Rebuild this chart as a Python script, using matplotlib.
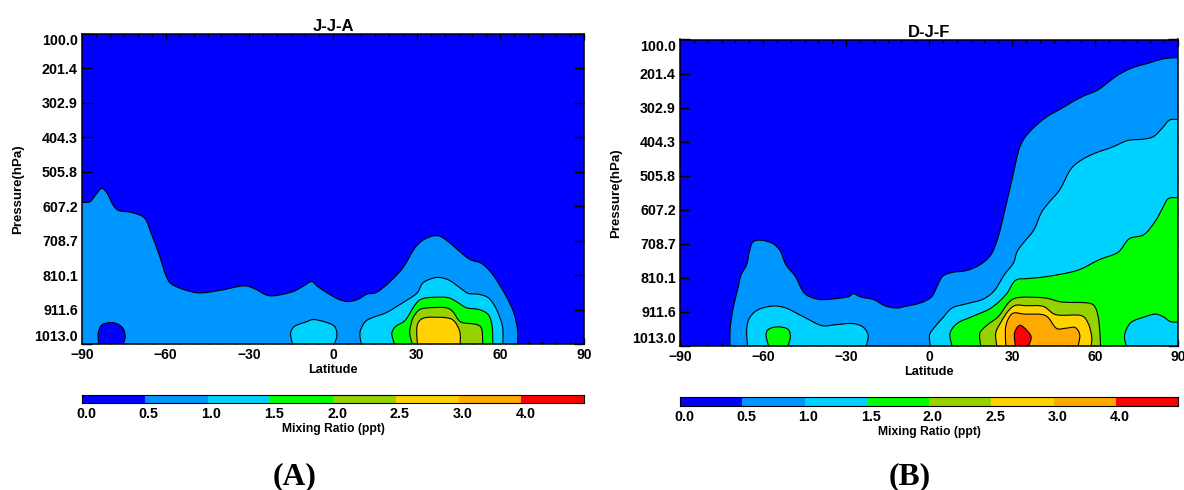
import matplotlib
matplotlib.use('Agg')
import matplotlib.pyplot as plt
import numpy as np
from matplotlib.path import Path
from matplotlib.patches import PathPatch

plt.rcParams['font.family'] = ['Liberation Sans', 'DejaVu Sans']
plt.rcParams['font.weight'] = 'bold'

W, H = 1184, 490

levels = ['0.0', '0.5', '1.0', '1.5', '2.0', '2.5', '3.0', '4.0']
colors = ['#0000ff', '#0096ff', '#00d2ff', '#00ff00', '#96d200', '#ffd200', '#ffaa00', '#ff0000']
pressure_ticks = [100.0, 201.4, 302.9, 404.3, 505.8, 607.2, 708.7, 810.1, 911.6, 1013.0]
lat_ticks = [-90, -60, -30, 0, 30, 60, 90]

# contours as (latitude, pressure)
jja_05 = [(-90, 596), (-87.1, 594), (-85.1, 574), (-83, 555), (-81, 569), (-78.9, 603), (-76.8, 620),
          (-72, 626), (-67.5, 643), (-65.2, 687), (-62.5, 746), (-59.7, 815), (-57, 841), (-48.8, 862),
          (-41.2, 856), (-32.3, 842), (-28.2, 850), (-22.7, 871), (-15.2, 861), (-11.1, 845), (-7.7, 829),
          (-5.6, 843), (-2.2, 862), (1.9, 881), (5.3, 888), (8.8, 882), (12.2, 866), (15.6, 861),
          (20.4, 830), (25.2, 787), (29.3, 731), (32.7, 705), (36.8, 694), (40.3, 705), (48.5, 761),
          (53.3, 776), (57.4, 810), (62.2, 874), (64.9, 923), (66.2, 973), (66.2, 1013)]
jja_hole = [(-84, 1013), (-84.2, 982), (-83, 958), (-80.3, 950), (-77.5, 953), (-75.2, 968), (-74.5, 992),
            (-75.2, 1013)]
jja_10a = [(-14.5, 1013), (-15.2, 982), (-13.8, 961), (-9.7, 948), (-7, 941), (-2.9, 948), (0.5, 961),
           (1.4, 987), (0.5, 1013)]
jja_10b = [(10.1, 1013), (9.7, 978), (11.5, 948), (14.2, 935), (19, 921), (24.5, 894), (30, 864), (32, 835),
           (34.8, 822), (37.9, 817), (41.6, 825), (45.8, 849), (48.5, 864), (52.6, 867), (56, 879),
           (58.8, 914), (60.8, 963), (60.9, 1013)]
jja_15 = [(22, 1013), (21.1, 982), (22.5, 961), (25.9, 943), (29.3, 899), (31.4, 882), (34.8, 876), (41, 876),
          (44.4, 889), (47.8, 906), (52.6, 912), (55.8, 928), (57.1, 963), (57.3, 1013)]
jja_20 = [(28.4, 1013), (27.5, 978), (28.6, 938), (30.7, 914), (33.4, 907), (40.3, 906), (43, 918),
          (45.8, 948), (51.2, 955), (53.3, 968), (53.7, 1013)]
jja_25 = [(30.3, 1013), (30, 973), (30.7, 948), (33.4, 935), (40.9, 936), (43.7, 948), (45.5, 978),
          (45.6, 1013)]

djf_05 = [(-71.9, 1013), (-71.9, 965), (-70.9, 905), (-69.2, 846), (-67.9, 801), (-65.9, 771), (-64.9, 731),
          (-63.6, 703), (-60.5, 698), (-56.4, 708), (-53.7, 731), (-51.7, 771), (-48.3, 806), (-45.6, 850),
          (-42.9, 867), (-38.2, 875), (-29.5, 867), (-27.4, 857), (-24.7, 867), (-20, 875), (-16, 893),
          (-11.9, 900), (-8.6, 895), (-3.2, 885), (0.9, 867), (2.9, 836), (4.9, 806), (8.3, 794), (13.7, 788),
          (18.4, 771), (22.4, 741), (25.1, 686), (27.2, 616), (30.4, 503), (32.3, 434), (34.1, 399),
          (37.3, 367), (42.3, 332), (48.6, 302), (54.9, 272), (61.1, 250), (67.4, 211), (73, 186), (80, 169),
          (85, 157), (90, 154)]
djf_10a = [(-65.6, 1013), (-65.9, 965), (-64.9, 930), (-61.8, 905), (-56.4, 894), (-51.7, 900), (-45.6, 925),
           (-38.9, 952), (-34.2, 950), (-28.1, 946), (-24.1, 955), (-22, 980), (-22.7, 1013)]
djf_10b = [(0.5, 1013), (0.2, 980), (2.2, 955), (4.9, 930), (8.3, 900), (13.7, 887), (19.7, 873), (23.8, 846),
           (27.2, 801), (30.5, 766), (31.9, 731), (34.6, 701), (38, 666), (40.6, 616), (43.3, 586), (47.3, 547),
           (51.1, 488), (54.9, 460), (59.9, 439), (66.1, 421), (71.8, 401), (77.4, 397), (81.2, 389),
           (84.3, 364), (86.9, 340), (90, 338)]
djf_15a = [(-58, 1013), (-58.9, 980), (-57.8, 962), (-54.4, 956), (-51, 963), (-50.1, 985), (-51, 1013)]
djf_15b = [(8.3, 1013), (7.6, 975), (10.3, 945), (15.7, 925), (22.4, 900), (27.8, 860), (31.2, 818),
           (35.9, 812), (42.7, 806), (53.5, 788), (61.5, 756), (68.3, 734), (72.3, 694), (77.7, 681),
           (81.8, 641), (84.5, 601), (86.5, 574), (90, 571)]
djf_hole = [(71.3, 1013), (70.7, 980), (73, 943), (78.4, 925), (81.8, 918), (84.5, 925), (87.2, 940), (90, 942)]
djf_20 = [(18.7, 1013), (18.4, 975), (21.1, 950), (25.1, 925), (29.2, 880), (33.2, 868), (42, 870), (48.1, 882),
          (57.5, 885), (60.2, 900), (61.5, 945), (62, 1013)]
djf_25 = [(24.5, 1013), (24.1, 975), (25.8, 945), (28.5, 910), (31.2, 892), (35.2, 893), (41.3, 895), (46, 920),
          (54.8, 922), (57.5, 945), (58.8, 985), (58.6, 1013)]
djf_30 = [(27.8, 1013), (27.6, 965), (28.5, 935), (30.5, 915), (34.6, 918), (42, 922), (46, 960), (49.4, 960),
          (52.8, 958), (54.5, 980), (53.9, 1013)]
djf_40 = [(31.2, 1013), (30.9, 975), (32.6, 952), (34.6, 960), (36.9, 985), (36, 1013)]


def axes_px(fig, left, right, top, bottom):
    return fig.add_axes([left / W, 1 - bottom / H, (right - left) / W, (bottom - top) / H])


def smooth_path(pts):
    # bezier through the read points so the contour edges are not polygonal
    pts = np.array(pts, dtype=float)
    verts = [pts[0]]
    for i in range(len(pts) - 1):
        p0 = pts[max(i - 1, 0)]
        p1 = pts[i]
        p2 = pts[i + 1]
        p3 = pts[min(i + 2, len(pts) - 1)]
        verts.append(p1 + (p2 - p0) / 6)
        verts.append(p2 - (p3 - p1) / 6)
        verts.append(p2)
    codes = [Path.MOVETO] + [Path.CURVE4] * (len(verts) - 1)
    return verts, codes


def draw_region(ax, pts, level, corners=()):
    verts, codes = smooth_path(pts)
    fill_verts = list(verts) + [np.array(c, dtype=float) for c in corners] + [verts[0]]
    fill_codes = codes + [Path.LINETO] * len(corners) + [Path.CLOSEPOLY]
    ax.add_patch(PathPatch(Path(fill_verts, fill_codes), facecolor=colors[level], edgecolor='none', zorder=2))
    ax.add_patch(PathPatch(Path(verts, codes), facecolor='none', edgecolor='black', linewidth=0.8, zorder=3))


def draw_panel(fig, box, title, regions, ylabel_x):
    ax = axes_px(fig, *box)
    ax.set_facecolor(colors[0])
    for region in regions:
        draw_region(ax, *region)
    ax.set_xlim(-90, 90)
    ax.set_ylim(1013, 100)
    ax.set_xticks(lat_ticks)
    ax.set_xticks(np.arange(-90, 91, 5), minor=True)
    ax.set_xticklabels([str(t).replace('-', '\u2212') for t in lat_ticks])
    ax.set_yticks(pressure_ticks)
    ax.set_yticklabels(['%.1f' % p for p in pressure_ticks])
    ax.tick_params(axis='x', which='major', direction='in', top=True, length=4.5, width=1, labelsize=10, pad=3)
    ax.tick_params(axis='x', which='minor', direction='in', top=True, length=2.2, width=0.9)
    ax.tick_params(axis='y', which='major', direction='in', right=True, length=7.2, width=1, labelsize=10.3, pad=3)
    labels = ax.get_yticklabels()
    labels[0].set_va('top')
    labels[-1].set_va('bottom')
    for spine in ax.spines.values():
        spine.set_linewidth(1.1)
        spine.set_zorder(5)
    ax.set_title(title, fontsize=12, fontweight='bold', pad=1.5)
    ax.set_xlabel('Latitude', fontsize=9.2, fontweight='bold', labelpad=1.5)
    fig.text(ylabel_x / W, 1 - (box[2] + box[3]) / 2 / H, 'Pressure(hPa)', rotation=90,
             ha='center', va='center', fontsize=9.5)
    return ax


def draw_colorbar(fig, box):
    ax = axes_px(fig, *box)
    for i in range(len(colors)):
        ax.barh(0, 1, left=i, height=1, color=colors[i], linewidth=0)
    ax.set_xlim(0, len(colors))
    ax.set_ylim(-0.5, 0.5)
    ax.set_yticks([])
    ax.set_xticks(np.arange(len(levels)) + 0.064)
    ax.set_xticklabels(levels)
    ax.tick_params(axis='x', length=0, labelsize=10.3, pad=3)
    for spine in ax.spines.values():
        spine.set_linewidth(0.8)
    ax.set_xlabel('Mixing Ratio (ppt)', fontsize=8.7, fontweight='bold', labelpad=1.5)


fig = plt.figure(figsize=(W / 100, H / 100), dpi=100)

jja_regions = [
    (jja_05, 1, [(-90, 1013)]),
    (jja_hole, 0),
    (jja_10a, 2),
    (jja_10b, 2),
    (jja_15, 3),
    (jja_20, 4),
    (jja_25, 5),
]
djf_regions = [
    (djf_05, 1, [(90, 1013)]),
    (djf_10a, 2),
    (djf_10b, 2, [(90, 1013)]),
    (djf_15a, 3),
    (djf_15b, 3, [(90, 1013)]),
    (djf_hole, 2, [(90, 1013)]),
    (djf_20, 4),
    (djf_25, 5),
    (djf_30, 6),
    (djf_40, 7),
]

draw_panel(fig, (82, 584, 34, 344), 'J-J-A', jja_regions, 18)
draw_panel(fig, (680, 1178, 39.5, 346), 'D-J-F', djf_regions, 616)
draw_colorbar(fig, (82, 584, 395, 403))
draw_colorbar(fig, (680, 1178, 397, 405.5))

fig.text(295 / W, 1 - 477 / H, '(A)', family='Liberation Serif', fontsize=22.8, fontweight='bold',
         ha='center', va='center')
fig.text(910 / W, 1 - 477 / H, '(B)', family='Liberation Serif', fontsize=22.8, fontweight='bold',
         ha='center', va='center')

fig.savefig('out.png', dpi=100)
